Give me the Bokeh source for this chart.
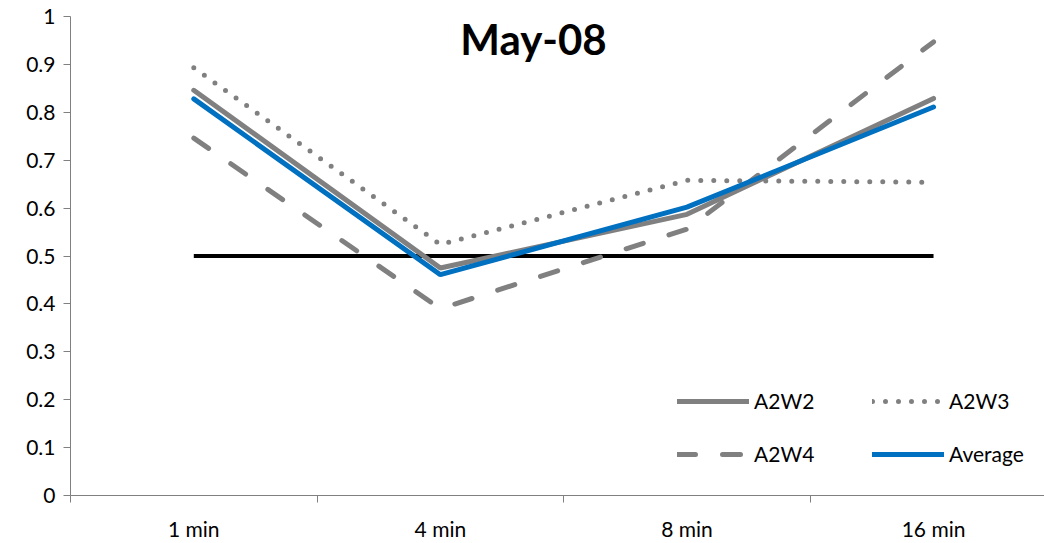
from bokeh.plotting import figure
from bokeh.models import Range1d, FixedTicker, Legend, LegendItem, Label
from bokeh.embed import file_html
from bokeh.resources import INLINE

categories = ["1 min", "4 min", "8 min", "16 min"]
a2w2 = [0.846, 0.475, 0.587, 0.829]
a2w3 = [0.893, 0.524, 0.658, 0.654]
a2w4 = [0.746, 0.39, 0.556, 0.947]
average = [0.828, 0.461, 0.602, 0.811]
reference = [0.5, 0.5, 0.5, 0.5]
y_ticks = [0, 0.1, 0.2, 0.3, 0.4, 0.5, 0.6, 0.7, 0.8, 0.9, 1]

xs = [i + 0.5 for i in range(len(categories))]
font = "Lato"
gray = "#808080"
blue = "#0070C0"

p = figure(width=1044, height=543, output_backend="svg", toolbar_location=None,
           x_range=Range1d(0, 3.95), y_range=Range1d(0, 1),
           min_border_left=70, min_border_right=0, min_border_top=16,
           min_border_bottom=47)
p.outline_line_color = None
p.grid.visible = False
p.background_fill_color = "white"
p.border_fill_color = "white"

# category axis: labels at centres, tick marks at category boundaries
p.xaxis.ticker = FixedTicker(ticks=xs, minor_ticks=[0, 1, 2, 3])
p.xaxis.major_label_overrides = {x: c for x, c in zip(xs, categories)}
p.xaxis.major_tick_out = 0
p.xaxis.major_tick_in = 0
p.xaxis.minor_tick_out = 7
p.xaxis.minor_tick_in = 0
p.xaxis.minor_tick_line_color = gray
p.xaxis.axis_line_color = gray
p.xaxis.major_label_text_font = font
p.xaxis.major_label_text_font_size = "21px"
p.xaxis.major_label_text_color = "black"
p.xaxis.major_label_standoff = 13

p.yaxis.ticker = FixedTicker(ticks=y_ticks)
p.yaxis.major_label_overrides = {t: f"{t:g}" for t in y_ticks}
p.yaxis.minor_tick_line_color = None
p.yaxis.major_tick_out = 7
p.yaxis.major_tick_in = 0
p.yaxis.major_tick_line_color = gray
p.yaxis.axis_line_color = gray
p.yaxis.major_label_text_font = font
p.yaxis.major_label_text_font_size = "21px"
p.yaxis.major_label_text_color = "black"
p.yaxis.major_label_standoff = 8

r_ref = p.line(xs, reference, line_color="black", line_width=4)
r2 = p.line(xs, a2w2, line_color=gray, line_width=5, line_cap="round")
r3 = p.line(xs, a2w3, line_color=gray, line_width=5, line_cap="round",
            line_dash="0 13")
r4 = p.line(xs, a2w4, line_color=gray, line_width=5, line_cap="round",
            line_dash="18 27")
ra = p.line(xs, average, line_color=blue, line_width=5, line_cap="round")

# two-column legend, filled column by column
legend = Legend(items=[LegendItem(label="A2W2", renderers=[r2]),
                       LegendItem(label="A2W4", renderers=[r4]),
                       LegendItem(label="A2W3", renderers=[r3]),
                       LegendItem(label="Average", renderers=[ra])],
                ncols=2, location=(607, 29), glyph_width=72, glyph_height=20,
                label_standoff=5, label_width=90, spacing=28, padding=0,
                margin=0, border_line_color=None, background_fill_alpha=0,
                label_text_font=font, label_text_font_size="21px",
                label_text_color="black")
p.add_layout(legend)

p.add_layout(Label(x=463, y=457, x_units="screen", y_units="screen",
                   text="May-08", text_align="center",
                   text_baseline="middle",
                   text_font=font, text_font_size="42px",
                   text_font_style="bold", text_color="black"))

open("out.html", "w").write(file_html(p, INLINE))
